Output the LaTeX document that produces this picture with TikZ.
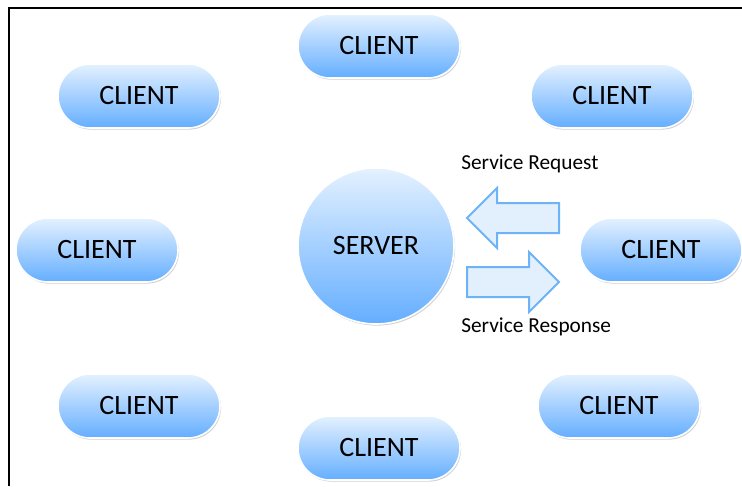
\documentclass[tikz,border=0pt]{standalone}
\usepackage{fontspec}
\setmainfont{Carlito}
\usetikzlibrary{shadows}

\definecolor{pilltop}{HTML}{E4F1FF}
\definecolor{pillmid}{HTML}{BCDDFF}
\definecolor{pillbot}{HTML}{64AEFF}
\definecolor{arrowfill}{HTML}{E2F0FD}
\definecolor{arrowline}{HTML}{6DB3F7}

\begin{document}
\begin{tikzpicture}[x=0.75pt, y=-0.75pt,
        pill/.style={rectangle, rounded corners=24pt, minimum width=121.5pt, minimum height=48pt,
            top color=pilltop, middle color=pillmid, bottom color=pillbot, draw=white, line width=1.2pt,
            drop shadow={shadow xshift=0.8pt, shadow yshift=-1.2pt, fill=black!40, opacity=0.45},
            font=\fontsize{21}{25}\selectfont},
        hub/.style={circle, minimum size=117pt, inner sep=0pt,
            top color=pilltop, middle color=pillmid, bottom color=pillbot, draw=white, line width=1.2pt,
            drop shadow={shadow xshift=0.8pt, shadow yshift=-1.2pt, fill=black!40, opacity=0.45},
            font=\fontsize{21}{25}\selectfont},
        blockarrow/.style={fill=arrowfill, draw=arrowline, line width=1.5pt, line join=miter},
        caption/.style={anchor=west, inner sep=0pt, font=\fontsize{16}{19}\selectfont}]
        % Define Variables
        \def\midY{250}
        \def\rqY{218}
        \def\rsY{282}

        \useasboundingbox (0,0) rectangle (742,486);

        % Frame
        \draw[line width=1.5pt] (9,486) -- (9,7.5) -- (742,7.5);

        % Server
        \node[hub] (server) at (376,246) {SERVER};

        % Clients
        \node[pill] (cl-n)  at (379,46)  {CLIENT};
        \node[pill] (cl-nw) at (139,96)  {CLIENT};
        \node[pill] (cl-ne) at (612,96)  {CLIENT};
        \node[pill] (cl-w)  at (97,\midY)  {CLIENT};
        \node[pill] (cl-e)  at (661,\midY) {CLIENT};
        \node[pill] (cl-sw) at (139,406) {CLIENT};
        \node[pill] (cl-se) at (619,406) {CLIENT};
        \node[pill] (cl-s)  at (379,448) {CLIENT};

        % Request and Response
        \draw[blockarrow] (467,\rqY) -- (497,188) -- (497,203) -- (559,203) -- (559,233)
            -- (497,233) -- (497,248) -- cycle;
        \draw[blockarrow] (559,\rsY) -- (529,252) -- (529,267) -- (467,267) -- (467,297)
            -- (529,297) -- (529,312) -- cycle;
        \node[caption] (req-lbl) at (461,164) {Service Request};
        \node[caption] (resp-lbl) at (461,327) {Service Response};
    \end{tikzpicture}
\end{document}
